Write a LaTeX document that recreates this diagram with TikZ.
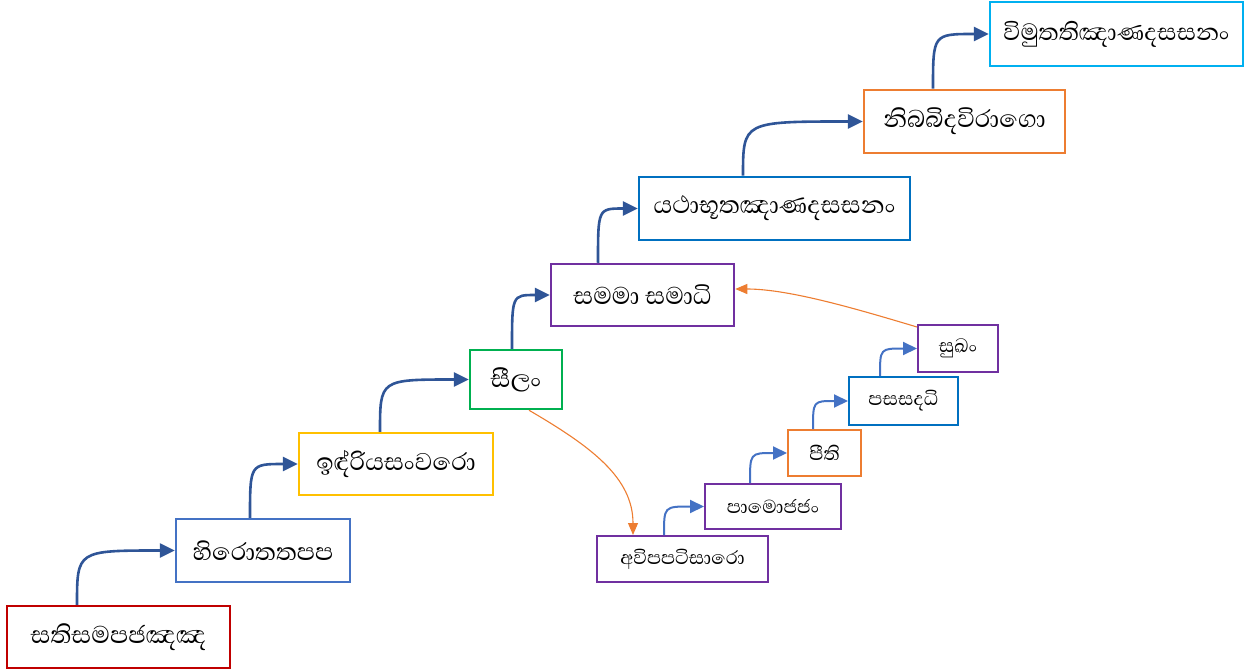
\documentclass[tikz,border=0pt]{standalone}
\usepackage{fontspec}
\usetikzlibrary{arrows.meta}
\newfontfamily\sinhfont[Script=Sinhala]{Abhaya Libre}
\definecolor{cRed}{HTML}{C00000}
\definecolor{cBlueA}{HTML}{4472C4}
\definecolor{cGold}{HTML}{FFC000}
\definecolor{cGreen}{HTML}{00B050}
\definecolor{cPurple}{HTML}{7030A0}
\definecolor{cBlueB}{HTML}{0070C0}
\definecolor{cOrange}{HTML}{ED7D31}
\definecolor{cSky}{HTML}{00B0F0}
\definecolor{cLink}{HTML}{2F5597}
\tikzset{
  bigbox/.style={draw=#1, line width=2.5pt, fill=white, inner sep=0pt, font=\sinhfont\fontsize{31}{34}\selectfont},
  smallbox/.style={draw=#1, line width=2pt, fill=white, inner sep=0pt, font=\sinhfont\fontsize{24}{27}\selectfont},
  biglink/.style={draw=cLink, line width=2.6pt, -{Triangle[length=15pt,width=14pt]}},
  smalllink/.style={draw=cBlueA, line width=2pt, -{Triangle[length=14pt,width=13pt]}},
  orlink/.style={draw=cOrange, line width=1.1pt, -{Triangle[length=12pt,width=10pt]}},
}
\begin{document}
\begin{tikzpicture}[x=1pt,y=-1pt]
\useasboundingbox (0,0) rectangle (1245,671);
% main chain
\node[bigbox=cRed, minimum width=223pt, minimum height=62pt] (n1) at (118.5,637) {සතිසමපජඤඤ};
\node[bigbox=cBlueA, minimum width=174pt, minimum height=63pt] (n2) at (263,550.5) {හිරොතතපප};
\node[bigbox=cGold, minimum width=194pt, minimum height=62pt] (n3) at (396,464) {ඉඳ්‍රියසංවරො};
\node[bigbox=cGreen, minimum width=92pt, minimum height=59pt] (n4) at (516,379.5) {සීලං};
\node[bigbox=cPurple, minimum width=183pt, minimum height=62pt] (n5) at (642.5,295) {සමමා\ සමාධි};
\node[bigbox=cBlueB, minimum width=271pt, minimum height=63pt] (n6) at (774.5,208.5) {යථාභූතඤාණදසසනං};
\node[bigbox=cOrange, minimum width=201pt, minimum height=63pt] (n7) at (964.5,121.5) {නිබබිදවිරාගො};
\node[bigbox=cSky, minimum width=253pt, minimum height=64pt, font=\sinhfont\fontsize{30}{33}\selectfont] (n8) at (1116.5,34) {විමුතතිඤාණදසසනං};
% secondary chain
\node[smallbox=cPurple, minimum width=171pt, minimum height=46pt] (n9) at (682.5,559) {අවිපපටිසාරො};
\node[smallbox=cPurple, minimum width=136pt, minimum height=45pt] (n10) at (773,506.5) {පාමොජජං};
\node[smallbox=cOrange, minimum width=73pt, minimum height=46pt] (n11) at (824.5,453) {පීති};
\node[smallbox=cBlueB, minimum width=109pt, minimum height=48pt] (n12) at (903.5,401) {පසසදධි};
\node[smallbox=cPurple, minimum width=80pt, minimum height=47pt] (n13) at (958,348.5) {සුඛං};
% main links
\draw[biglink] ([xshift=-41.5pt]n1.north) .. controls ([xshift=-41.5pt]n1.north |- n2.west) .. (n2.west);
\draw[biglink] ([xshift=-13pt]n2.north) .. controls ([xshift=-13pt]n2.north |- n3.west) .. (n3.west);
\draw[biglink] ([xshift=-16pt]n3.north) .. controls ([xshift=-16pt]n3.north |- n4.west) .. (n4.west);
\draw[biglink] ([xshift=-4pt]n4.north) .. controls ([xshift=-4pt]n4.north |- n5.west) .. (n5.west);
\draw[biglink] ([xshift=-44.5pt]n5.north) .. controls ([xshift=-44.5pt]n5.north |- n6.west) .. (n6.west);
\draw[biglink] ([xshift=-31.5pt]n6.north) .. controls ([xshift=-31.5pt]n6.north |- n7.west) .. (n7.west);
\draw[biglink] ([xshift=-31.5pt]n7.north) .. controls ([xshift=-31.5pt]n7.north |- n8.west) .. (n8.west);
% small links
\draw[smalllink] ([xshift=-18.5pt]n9.north) .. controls ([xshift=-18.5pt]n9.north |- n10.west) .. (n10.west);
\draw[smalllink] ([xshift=-23pt]n10.north) .. controls ([xshift=-23pt]n10.north |- n11.west) .. (n11.west);
\draw[smalllink] ([xshift=-11.5pt]n11.north) .. controls ([xshift=-11.5pt]n11.north |- n12.west) .. (n12.west);
\draw[smalllink] ([xshift=-23.5pt]n12.north) .. controls ([xshift=-23.5pt]n12.north |- n13.west) .. (n13.west);
% orange links
\draw[orlink] ([xshift=13pt]n4.south) .. controls (592,447) and (633,478) .. ([xshift=-49.5pt]n9.north);
\draw[orlink] ([yshift=-3pt]n13.north west) .. controls (860,310) and (790,289) .. ([yshift=6pt]n5.east);
\end{tikzpicture}
\end{document}
